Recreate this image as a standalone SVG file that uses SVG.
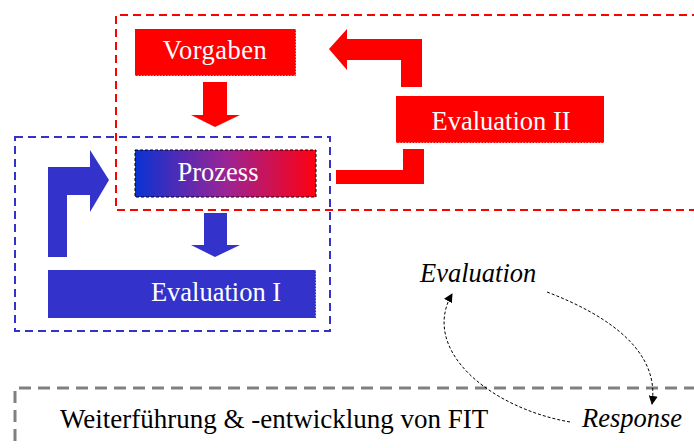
<svg xmlns="http://www.w3.org/2000/svg" width="694" height="448" viewBox="0 0 694 448">
  <style>
    text { font-family: 'Liberation Serif', 'Times New Roman', Times, 'DejaVu Serif', serif; font-size: 26.5px; }
    .lbl { fill: #ffffff; text-anchor: middle; }
    .ital { font-style: italic; fill: #000000; }
    .plain { fill: #000000; font-size: 27px; }
    .red { fill: #ff0000; }
    .blue { fill: #3333cc; }
    .edge { fill: none; stroke: #ffffff; stroke-width: 1; stroke-dasharray: 1.5 1.5; }
    .frame-red { fill: none; stroke: #ff0000; stroke-width: 2; stroke-dasharray: 8 5; }
    .frame-blue { fill: none; stroke: #3333cc; stroke-width: 2; stroke-dasharray: 8 5; }
    .frame-gray { fill: none; stroke: #808080; stroke-width: 3; stroke-dasharray: 12 7; }
    .cycle { fill: none; stroke: #000000; stroke-width: 1; stroke-dasharray: 3 2; }
  </style>
  <defs>
    <linearGradient id="procGrad" x1="0" y1="0" x2="1" y2="0">
      <stop offset="0" stop-color="#0a32d2"/>
      <stop offset="0.5" stop-color="#9a2496"/>
      <stop offset="1" stop-color="#ff0010"/>
    </linearGradient>
    <marker id="tip" viewBox="0 0 10 10" refX="9" refY="5" markerWidth="9" markerHeight="9" orient="auto" markerUnits="userSpaceOnUse">
      <path d="M0,0 L10,5 L0,10 Z" fill="#000000"/>
    </marker>
  </defs>

  <!-- dashed frames -->
  <g id="frames">
    <path class="frame-red" d="M700,15 H116 V210 H700"/>
    <rect class="frame-blue" x="15" y="137" width="315" height="194"/>
    <path class="frame-gray" d="M15,460 V388 H700"/>
  </g>

  <!-- block arrows and loop connectors -->
  <g id="connectors">
    <!-- Vorgaben down to Prozess -->
    <path class="red" d="M203,82 H227 V115 H240 L215,127 L191,115 H203 Z"/>
    <!-- Prozess down to Evaluation I -->
    <path class="blue" d="M204,213 H227 V245 H240 L215,257 L191,245 H204 Z"/>
    <!-- Evaluation I back up to Prozess -->
    <path class="blue" d="M48,257 V167 H90 V150 L109,180 L90,212 V195 H67 V257 Z"/>
    <!-- Prozess over to Evaluation II -->
    <path class="red" d="M336,170 H403 V149 H424 V184 H336 Z"/>
    <!-- Evaluation II back to Vorgaben -->
    <path class="red" d="M422,87 H401 V60 H347 V70 L329,49 L347,29 V39 H422 Z"/>
    <!-- Evaluation / Response cycle -->
    <path class="cycle" marker-end="url(#tip)" d="M547,292 C610,316 660,352 652,404"/>
    <path class="cycle" marker-end="url(#tip)" d="M570,422 C490,408 420,350 452,294"/>
  </g>

  <g id="vorgaben">
    <rect class="red" x="135" y="29" width="161" height="47"/>
    <path class="edge" d="M296,29 V76 H135"/>
    <text class="lbl" x="215" y="59" letter-spacing="0.5">Vorgaben</text>
  </g>

  <g id="prozess">
    <rect x="135" y="150" width="181" height="47" fill="url(#procGrad)" stroke="#000000" stroke-width="1" stroke-dasharray="3 2"/>
    <text class="lbl" x="218" y="181">Prozess</text>
  </g>

  <g id="evaluation-1">
    <rect class="blue" x="48" y="270" width="268" height="48"/>
    <path class="edge" d="M316,270 V318"/>
    <text class="lbl" x="216" y="301">Evaluation I</text>
  </g>

  <g id="evaluation-2">
    <rect class="red" x="396" y="96" width="208" height="47"/>
    <path class="edge" d="M396,143 H604"/>
    <text class="lbl" x="501" y="130">Evaluation II</text>
  </g>

  <g id="cycle-labels">
    <text class="ital" x="420" y="282">Evaluation</text>
    <text class="ital" x="582" y="427">Response</text>
  </g>

  <g id="weiterfuehrung">
    <text class="plain" x="60" y="428">Weiterführung &amp; -entwicklung von FIT</text>
  </g>
</svg>
